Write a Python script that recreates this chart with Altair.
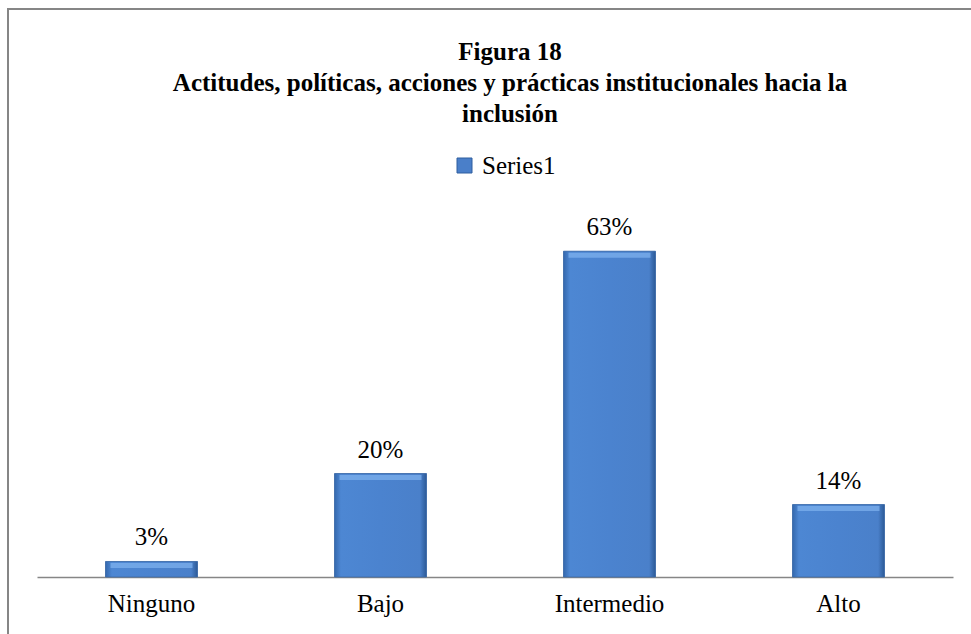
import altair as alt
import pandas as pd

# Chart values
categorias = ["Ninguno", "Bajo", "Intermedio", "Alto"]
porcentajes = [3, 20, 63, 14]
etiquetas = ["3%", "20%", "63%", "14%"]
serie = ["Series1"] * 4

titulo = [
    "Figura 18",
    "Actitudes, políticas, acciones y prácticas institucionales hacia la",
    "inclusión",
]

df = pd.DataFrame({
    "categoria": categorias,
    "valor": porcentajes,
    "etiqueta": etiquetas,
    "serie": serie,
})

FONT = "Liberation Serif"
GRAY = "#868686"
BAR_W = 92
FS = 25

x_enc = alt.X("categoria:N", sort=categorias, title=None,
              axis=alt.Axis(labelAngle=0, labelFont=FONT, labelFontSize=FS,
                            labelColor="#000000", labelPadding=14, ticks=False,
                            domainColor=GRAY, domainWidth=1.5, grid=False))
y_enc = alt.Y("valor:Q", scale=alt.Scale(domain=[0, 70]), axis=None)

base = alt.Chart(df)

# flat bars carry the legend entry
bars = base.mark_bar(size=BAR_W).encode(
    x=x_enc, y=y_enc,
    color=alt.Color("serie:N", scale=alt.Scale(range=["#4a7fc9"]),
                    legend=alt.Legend(title=None, orient="none", legendX=415, legendY=-62,
                                      symbolType="square", symbolSize=225,
                                      symbolStrokeColor="#2f5f9f", symbolStrokeWidth=1,
                                      labelFont=FONT, labelFontSize=FS, labelColor="#000000",
                                      labelOffset=5, padding=0)),
)

# bevelled face drawn on top
bevel = {
    "gradient": "linear", "x1": 0, "y1": 0, "x2": 1, "y2": 0,
    "stops": [
        {"offset": 0.0, "color": "#3468ad"},
        {"offset": 0.07, "color": "#4d87d3"},
        {"offset": 0.5, "color": "#4b83cf"},
        {"offset": 0.93, "color": "#4a80ca"},
        {"offset": 1.0, "color": "#2c5a97"},
    ],
}
face = base.mark_bar(size=BAR_W, fill=bevel, stroke="#3c6aa6", strokeWidth=0.8).encode(
    x=alt.X("categoria:N", sort=categorias), y=y_enc,
)

# light strip along the top edge
strip = base.mark_tick(size=BAR_W - 10, thickness=5, color="#80b3ef", yOffset=4).encode(
    x=alt.X("categoria:N", sort=categorias), y=y_enc,
)

labels = base.mark_text(font=FONT, fontSize=FS, color="#000000",
                        baseline="alphabetic", dy=-16).encode(
    x=alt.X("categoria:N", sort=categorias), y=y_enc, text="etiqueta:N",
)

title_df = pd.DataFrame({"linea": titulo, "fila": [0, 1, 2]})
title_marks = alt.Chart(title_df).mark_text(
    font=FONT, fontSize=FS, fontWeight="bold", color="#000000", baseline="middle", align="center"
).encode(
    x=alt.value(473),
    y=alt.Y("fila:Q", scale=alt.Scale(domain=[0, 2], range=[-163, -101]), axis=None),
    text="linea:N",
)

# outer frame of the chart
frame_left = alt.Chart(df).mark_rule(color=GRAY, strokeWidth=2).encode(
    x=alt.value(-29), y=alt.value(-206), y2=alt.value(500))
frame_top = alt.Chart(df).mark_rule(color=GRAY, strokeWidth=2).encode(
    x=alt.value(-30), x2=alt.value(1000), y=alt.value(-206))

chart = alt.layer(
    frame_left, frame_top, title_marks, bars, face, strip, labels
).resolve_scale(y="independent").properties(
    width=916, height=362,
    autosize=alt.AutoSizeParams(type="none"),
    padding={"left": 37, "top": 215, "right": 18, "bottom": 57},
    background="#ffffff",
).configure_view(stroke=None)

chart.save("out.html", embed_options={"renderer": "svg", "actions": False})
